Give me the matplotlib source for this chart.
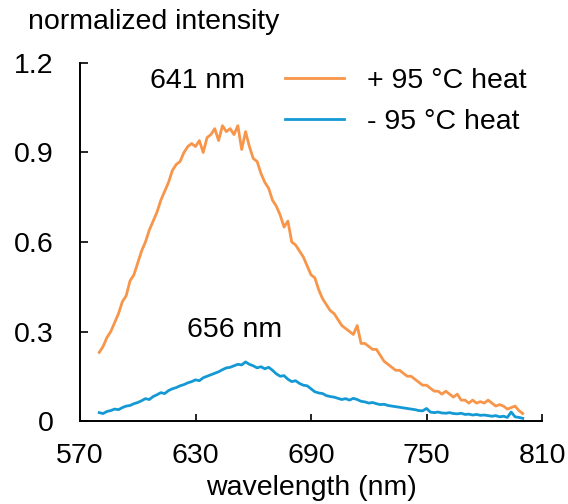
import numpy as np
import matplotlib
matplotlib.use("Agg")
import matplotlib.pyplot as plt

plt.rcParams['font.family'] = ['Liberation Sans', 'DejaVu Sans']

# ---- data ----
heated = [0.23, 0.25, 0.28, 0.30, 0.33, 0.36, 0.40, 0.42, 0.47, 0.49,
          0.53, 0.57, 0.60, 0.64, 0.67, 0.70, 0.74, 0.77, 0.80, 0.84,
          0.86, 0.87, 0.90, 0.92, 0.93, 0.92, 0.94, 0.90, 0.95, 0.96,
          0.98, 0.94, 0.99, 0.97, 0.98, 0.96, 0.99, 0.91, 0.97, 0.92,
          0.88, 0.87, 0.83, 0.80, 0.78, 0.74, 0.72, 0.69, 0.65, 0.67,
          0.60, 0.59, 0.57, 0.55, 0.52, 0.49, 0.48, 0.44, 0.41, 0.39,
          0.37, 0.36, 0.34, 0.32, 0.31, 0.30, 0.29, 0.32, 0.26, 0.26,
          0.25, 0.24, 0.24, 0.22, 0.20, 0.19, 0.18, 0.17, 0.17, 0.16,
          0.15, 0.15, 0.14, 0.13, 0.12, 0.12, 0.11, 0.10, 0.10, 0.09,
          0.10, 0.09, 0.08, 0.09, 0.07, 0.07, 0.06, 0.07, 0.06, 0.065,
          0.06, 0.07, 0.06, 0.05, 0.055, 0.05, 0.04, 0.045, 0.05, 0.035,
          0.025]
unheated = [0.028, 0.025, 0.032, 0.035, 0.040, 0.038, 0.045, 0.050, 0.052, 0.058,
            0.062, 0.068, 0.075, 0.072, 0.082, 0.088, 0.095, 0.092, 0.102, 0.108,
            0.112, 0.118, 0.122, 0.128, 0.132, 0.138, 0.135, 0.145, 0.150, 0.155,
            0.160, 0.165, 0.172, 0.178, 0.180, 0.185, 0.190, 0.188, 0.198, 0.190,
            0.185, 0.178, 0.182, 0.175, 0.180, 0.170, 0.158, 0.150, 0.152, 0.140,
            0.132, 0.135, 0.126, 0.120, 0.118, 0.108, 0.098, 0.094, 0.092, 0.085,
            0.082, 0.080, 0.076, 0.072, 0.075, 0.070, 0.076, 0.072, 0.066, 0.064,
            0.060, 0.062, 0.058, 0.055, 0.056, 0.052, 0.050, 0.048, 0.046, 0.044,
            0.042, 0.040, 0.038, 0.035, 0.034, 0.042, 0.030, 0.028, 0.030, 0.027,
            0.026, 0.028, 0.025, 0.024, 0.026, 0.022, 0.023, 0.020, 0.022, 0.019,
            0.020, 0.018, 0.016, 0.018, 0.014, 0.016, 0.012, 0.030, 0.014, 0.012,
            0.009]
wavelength = np.linspace(580, 800, len(heated))
series_labels = ['+ 95 °C heat', '- 95 °C heat']
peak_labels = ['641 nm', '656 nm']
x_ticks = [570, 630, 690, 750, 810]
y_ticks = [0, 0.3, 0.6, 0.9, 1.2]
y_ticklabels = ['0', '0.3', '0.6', '0.9', '1.2']

orange = '#f7964a'
blue = '#1499d4'
FS = 20.5

fig = plt.figure(figsize=(5.68, 5.04), dpi=100)
W, H = 568, 504
ax = fig.add_axes([80 / W, 1 - 421 / H, (542 - 80) / W, (421 - 63) / H])

l1, = ax.plot(wavelength, heated, color=orange, lw=2.0, label=series_labels[0])
l2, = ax.plot(wavelength, unheated, color=blue, lw=2.0, label=series_labels[1])

ax.set_xlim(570, 810)
ax.set_ylim(0, 1.2)
ax.set_xticks(x_ticks)
ax.set_xticklabels([str(t) for t in x_ticks])
ax.set_yticks(y_ticks)
ax.set_yticklabels(y_ticklabels)

for s in ['top', 'right']:
    ax.spines[s].set_visible(False)
for s in ['left', 'bottom']:
    ax.spines[s].set_linewidth(1.4)
ax.tick_params(axis='both', direction='in', labelsize=FS, width=1.2)
ax.tick_params(axis='y', length=6, pad=19)
ax.tick_params(axis='x', length=5, pad=16)

ax.text(631, 1.138, peak_labels[0], fontsize=FS, ha='center', va='center')
ax.text(650.5, 0.305, peak_labels[1], fontsize=FS, ha='center', va='center')

leg = ax.legend(handles=[l1, l2], loc='upper left', frameon=False, fontsize=FS,
                bbox_to_anchor=(285 / W, 1 - 68 / H), bbox_transform=fig.transFigure,
                handlelength=2.07, handletextpad=0.8, labelspacing=0.51,
                borderpad=0, borderaxespad=0)

fig.text(28 / W, 1 - 22 / H, 'normalized intensity', fontsize=FS, ha='left', va='center')
fig.text(311 / W, 1 - 488 / H, 'wavelength (nm)', fontsize=FS, ha='center', va='center')

fig.savefig('out.png', dpi=100)
